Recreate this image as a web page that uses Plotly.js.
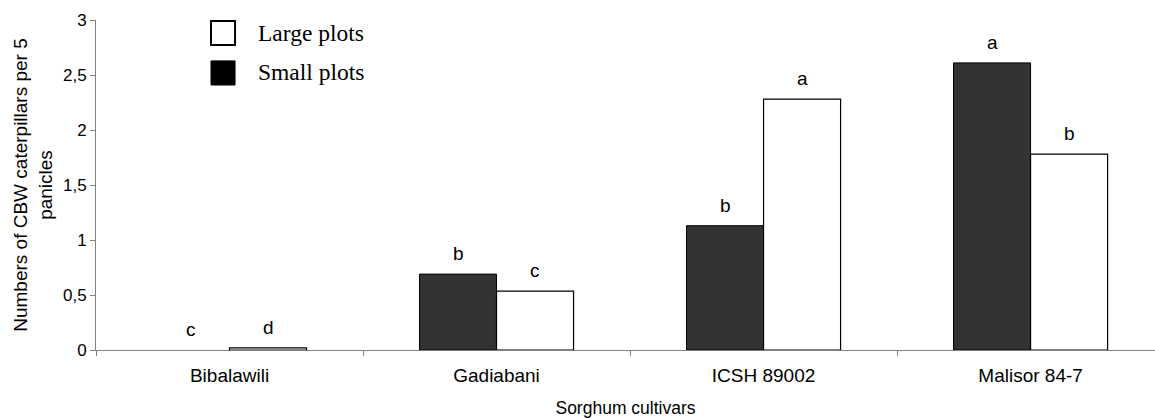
<!DOCTYPE html>
<html>
<head>
<meta charset="utf-8">
<script src="https://cdn.plot.ly/plotly-3.0.1.min.js"></script>
<style>html,body{margin:0;padding:0;background:#fff;}#chart{width:1155px;height:418px;}</style>
</head>
<body>
<div id="chart"></div>
<script>
const cultivars = ["Bibalawili", "Gadiabani", "ICSH 89002", "Malisor 84-7"];
const smallPlots = [0, 0.69, 1.13, 2.61];
const largePlots = [0.02, 0.535, 2.28, 1.78];
const smallLetters = ["c", "b", "b", "a"];
const largeLetters = ["d", "c", "a", "b"];
const yTicks = [0, 0.5, 1, 1.5, 2, 2.5, 3];

const fontSans = "Liberation Sans, Arial, sans-serif";
const fontSerif = "Liberation Serif, Times New Roman, serif";

const traces = [
  {
    type: "bar", name: "Small plots", x: cultivars, y: smallPlots,
    marker: {color: "#333333", line: {color: "#000000", width: smallPlots.map(v => v === 0 ? 0 : 1)}},
    hoverinfo: "skip"
  },
  {
    type: "bar", name: "Large plots", x: cultivars, y: largePlots,
    marker: {color: "#ffffff", line: {color: "#000000", width: 1.2}},
    hoverinfo: "skip"
  }
];

const halfBar = 38.5;
const letterFont = {family: fontSans, size: 19, color: "#000"};
const annotations = [];
cultivars.forEach((c, i) => {
  annotations.push({x: c, y: smallPlots[i], xref: "x", yref: "y", text: smallLetters[i],
    showarrow: false, xshift: -halfBar, yshift: 8, yanchor: "bottom", font: letterFont});
  annotations.push({x: c, y: largePlots[i], xref: "x", yref: "y", text: largeLetters[i],
    showarrow: false, xshift: halfBar, yshift: 8, yanchor: "bottom", font: letterFont});
});
annotations.push({xref: "paper", yref: "paper", x: 0.151, y: 0.9606, xanchor: "left", yanchor: "middle",
  text: "Large plots", showarrow: false, font: {family: fontSerif, size: 23.5, color: "#000"}});
annotations.push({xref: "paper", yref: "paper", x: 0.151, y: 0.842, xanchor: "left", yanchor: "middle",
  text: "Small plots", showarrow: false, font: {family: fontSerif, size: 23.5, color: "#000"}});

const shapes = [
  {type: "rect", xref: "paper", yref: "paper", x0: 0.1086, x1: 0.1313, y0: 0.924, y1: 0.997,
    fillcolor: "#ffffff", line: {color: "#000", width: 2}},
  {type: "rect", xref: "paper", yref: "paper", x0: 0.1086, x1: 0.1313, y0: 0.803, y1: 0.876,
    fillcolor: "#000000", line: {color: "#000", width: 1}}
];

const layout = {
  width: 1155, height: 418,
  margin: {l: 96, r: 0, t: 20, b: 68, pad: 0},
  paper_bgcolor: "#ffffff", plot_bgcolor: "#ffffff",
  showlegend: false,
  separators: ", ",
  barmode: "group", bargap: 0.423, bargroupgap: 0,
  font: {family: fontSans, size: 17, color: "#000"},
  xaxis: {
    type: "category", range: [-0.5, 3.466], autorange: false,
    tickson: "boundaries", ticks: "outside", ticklen: 5, tickcolor: "#808080", tickwidth: 1,
    showline: true, linecolor: "#808080", linewidth: 1,
    showgrid: false, zeroline: false,
    ticklabelstandoff: 8,
    tickfont: {family: fontSans, size: 19, color: "#000"},
    title: {text: "Sorghum cultivars", font: {family: fontSans, size: 17.5, color: "#000"}, standoff: 20}
  },
  yaxis: {
    range: [0, 3], autorange: false,
    tickvals: yTicks,
    ticks: "outside", ticklen: 5, tickcolor: "#808080", tickwidth: 1,
    showline: true, linecolor: "#808080", linewidth: 1,
    showgrid: false, zeroline: false,
    tickfont: {family: fontSans, size: 17, color: "#000"},
    title: {text: "Numbers of CBW caterpillars per 5<br>panicles", font: {family: fontSans, size: 19, color: "#000"}, standoff: 5}
  },
  annotations: annotations,
  shapes: shapes
};

Plotly.newPlot("chart", traces, layout, {displayModeBar: false, staticPlot: true});
</script>
</body>
</html>
